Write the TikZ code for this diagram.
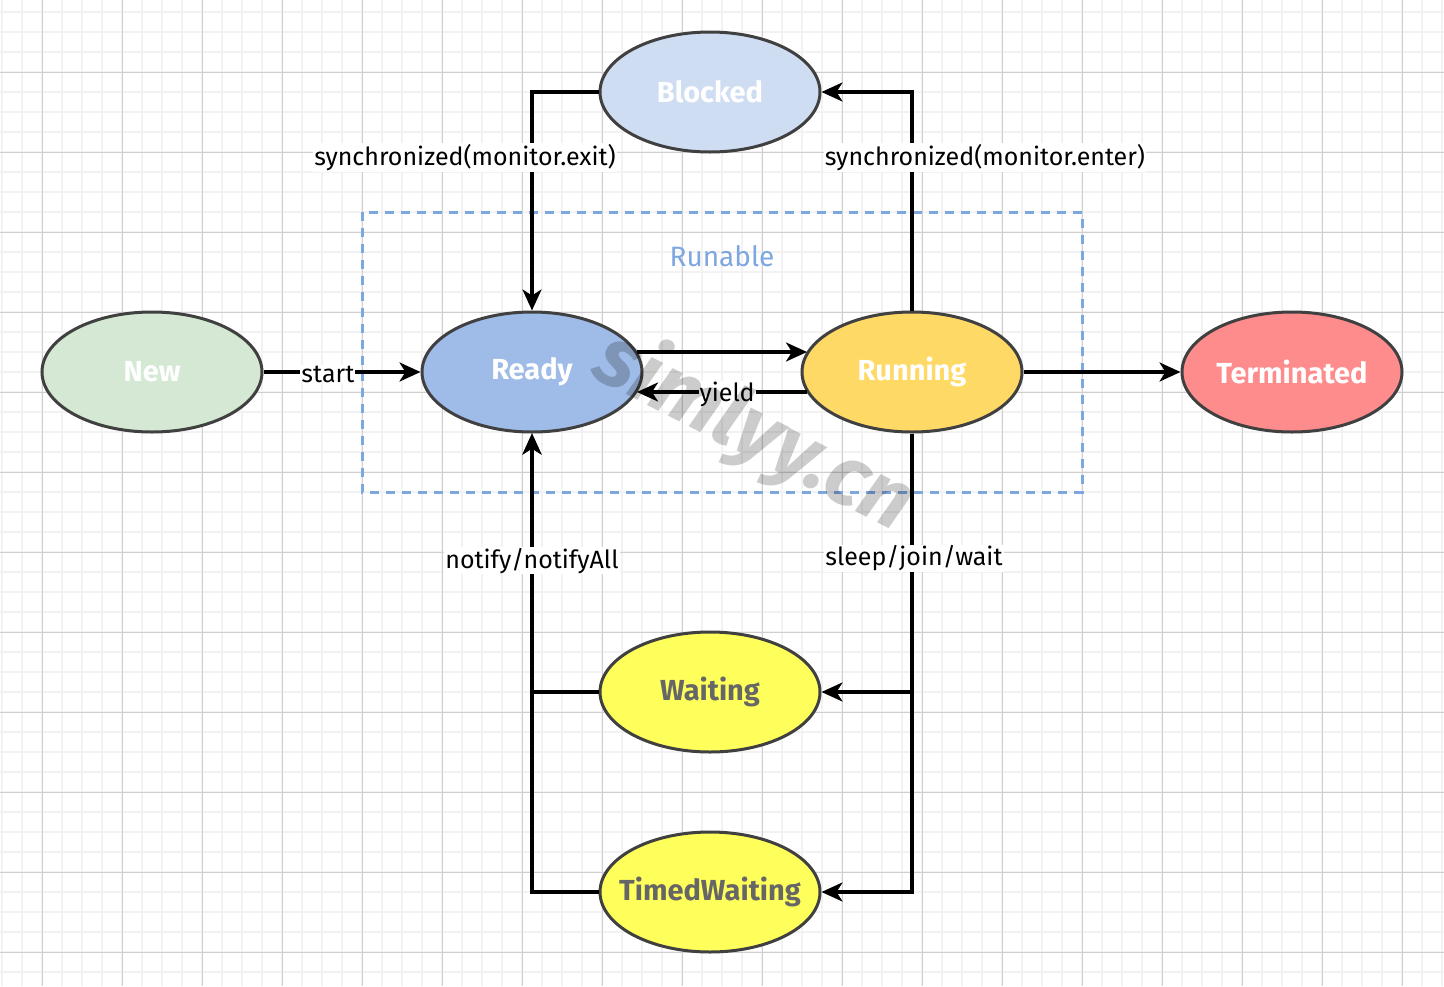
\documentclass[tikz,border=0pt]{standalone}
\usepackage{fontspec}
\setmainfont{Fira Sans}
\usetikzlibrary{arrows.meta,shapes.geometric,calc}
\definecolor{gridminor}{HTML}{F2F2F2}
\definecolor{gridmajor}{HTML}{CFCFCF}
\definecolor{edgegray}{HTML}{404040}
\definecolor{newfill}{HTML}{D5E8D4}
\definecolor{readyfill}{HTML}{9FBBE7}
\definecolor{runfill}{HTML}{FFD966}
\definecolor{termfill}{HTML}{FF8C8C}
\definecolor{blockfill}{HTML}{CFDDF3}
\definecolor{waitfill}{HTML}{FFFF5C}
\definecolor{waittext}{HTML}{666666}
\definecolor{boxblue}{HTML}{7EA6E0}
\begin{document}
\begin{tikzpicture}[x=1pt,y=-1pt,
  state/.style={ellipse, draw=edgegray, line width=3pt, minimum width=220pt,
    minimum height=120pt, inner sep=0pt,
    font=\fontsize{29}{32}\selectfont\bfseries, text=white},
  flow/.style={line width=3.2pt, -{Stealth[length=21pt,width=19pt,inset=6pt]}},
  lbl/.style={fill=white, inner sep=1pt, yshift=-2pt, font=\fontsize{25}{28}\selectfont, text=black},
]
\useasboundingbox (0,0) rectangle (1444,986);
\fill[white] (0,0) rectangle (1444,986);

% background grid
\foreach \x in {2,22,...,1442} \draw[gridminor, line width=1.5pt] (\x,0) -- (\x,986);
\foreach \y in {12,32,...,972} \draw[gridminor, line width=1.5pt] (0,\y) -- (1444,\y);
\foreach \x in {42,122,...,1402} \draw[gridmajor, line width=1pt] (\x,0) -- (\x,986);
\foreach \y in {72,152,...,952} \draw[gridmajor, line width=1pt] (0,\y) -- (1444,\y);

% runnable group
\draw[boxblue, line width=3pt, dash pattern=on 9pt off 7pt] (362,212) rectangle (1082,492);
\node[text=boxblue, font=\fontsize{28}{32}\selectfont] (runable) at (722,256) {Runable};

% states
\node[state, fill=newfill]   (New)        at (152,372)  {New};
\node[state, fill=readyfill] (Ready)      at (532,372)  {Ready};
\node[state, fill=runfill]   (Running)    at (912,372)  {Running};
\node[state, fill=termfill]  (Terminated) at (1292,372) {Terminated};
\node[state, fill=blockfill] (Blocked)    at (710,92)   {Blocked};
\node[state, fill=waitfill, text=waittext] (Waiting)      at (710,692) {Waiting};
\node[state, fill=waitfill, text=waittext, inner xsep=-45pt] (TimedWaiting) at (710,892) {TimedWaiting};

% transitions
\draw[flow] (New) -- node[lbl, pos=.41] (lstart) {start} (Ready);
\draw[flow] ($(Ready)+(105,-20)$) -- ($(Running)+(-105,-20)$);
\draw[flow] ($(Running)+(-105,20)$) -- node[lbl, pos=.47] (lyield) {yield} ($(Ready)+(105,20)$);
\draw[flow] (Running) -- (Terminated);
\draw[flow] (Running.north) |- node[lbl, pos=.3545, xshift=73pt] (lenter) {synchronized(monitor.enter)} (Blocked.east);
\draw[flow] (Blocked.west) -| node[lbl, pos=.645, xshift=-67pt] (lexit) {synchronized(monitor.exit)} (Ready.north);
\draw[flow] (Running.south) |- (TimedWaiting.east);
\draw[flow] (Running.south) |- node[lbl, pos=.238, xshift=2pt] (lsleep) {sleep/join/wait} (Waiting.east);
\draw[flow] (TimedWaiting.west) -| (Ready.south);
\draw[flow] (Waiting.west) -| node[lbl, pos=.758] (lnotify) {notify/notifyAll} (Ready.south);

% watermark
\node[rotate=-27, text=black, opacity=.2, font=\fontsize{84}{84}\selectfont\bfseries\itshape] (wm) at (754,432) {simlyy.cn};
\end{tikzpicture}
\end{document}
